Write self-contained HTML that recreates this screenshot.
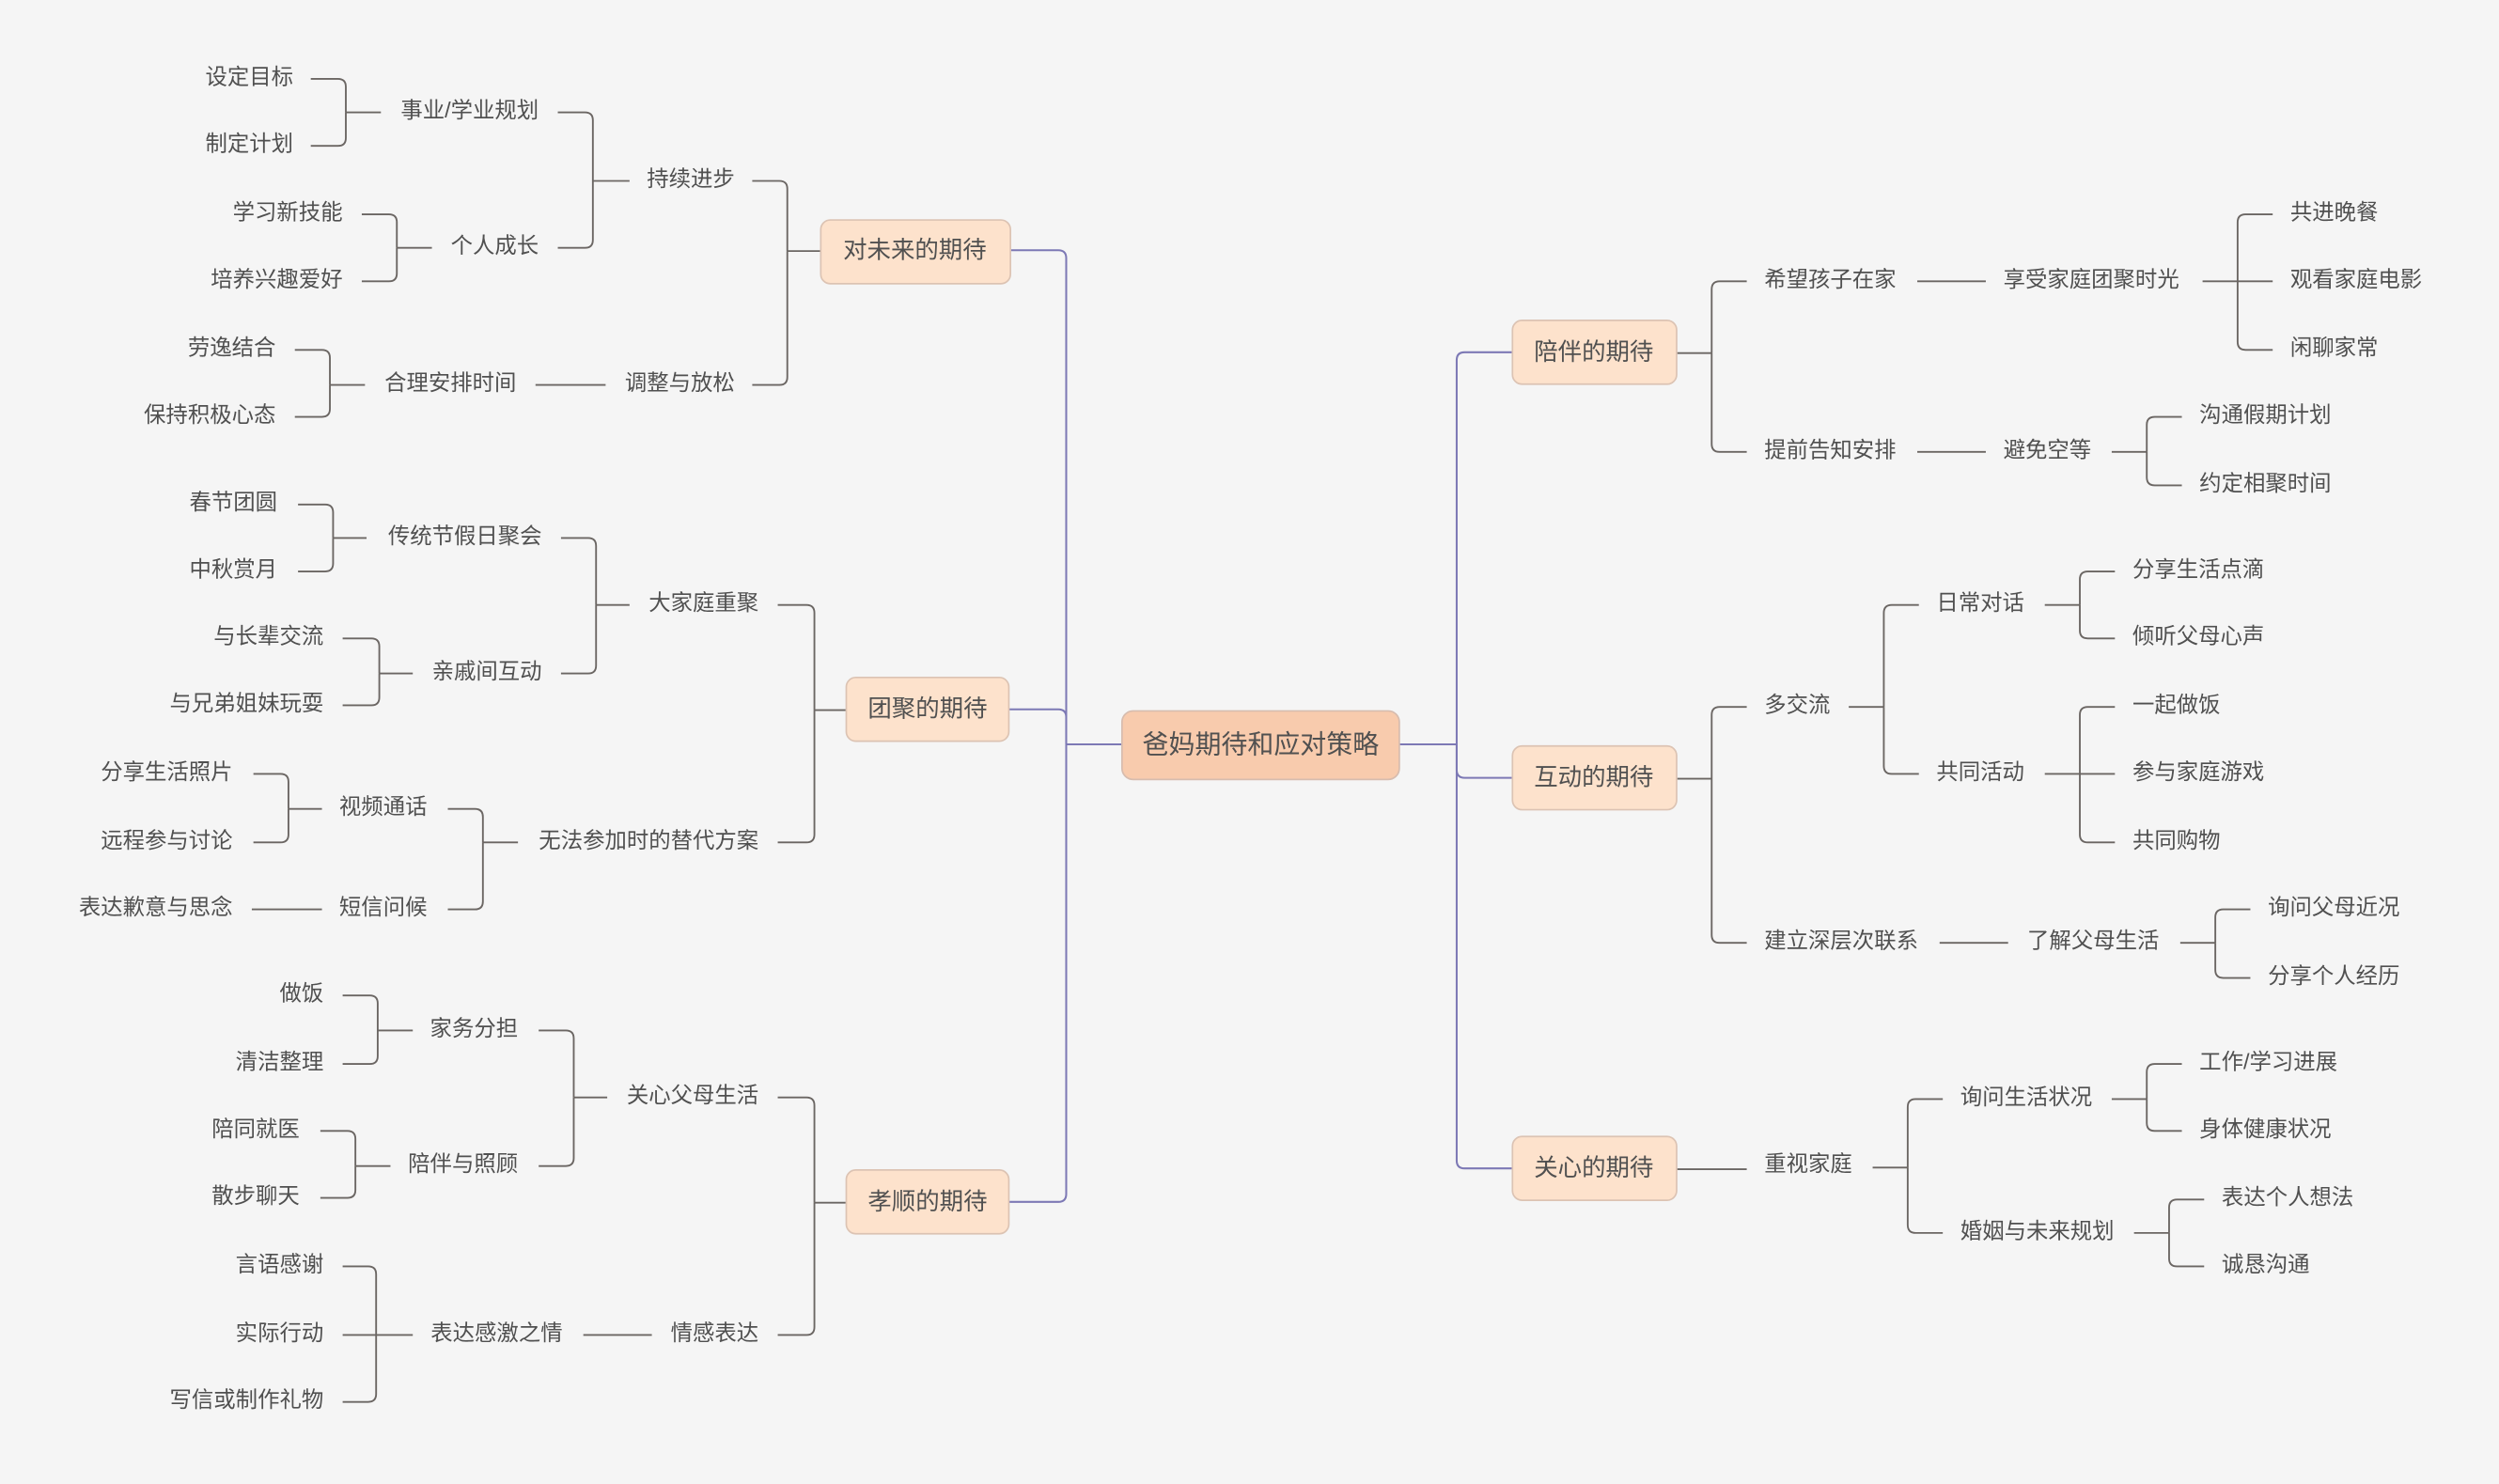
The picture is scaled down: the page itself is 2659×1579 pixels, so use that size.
<!DOCTYPE html>
<html><head><meta charset="utf-8"><style>
html,body{margin:0;padding:0;background:#f5f5f5;}
svg{display:block;}
text{font-family:"Liberation Sans","Noto Sans CJK SC",sans-serif;fill:#505050;font-size:13.8px;dominant-baseline:central;}
.l{text-anchor:end}
.c{text-anchor:middle;font-size:15px}
.s path{fill:none;stroke:#6b6663;stroke-width:1.1}
.m path{fill:none;stroke:#7d79b5;stroke-width:1.2}
</style></head><body>
<svg width="2659" height="1579" viewBox="0 0 1568 931" preserveAspectRatio="none">
<rect width="1568" height="931" fill="#f5f5f5"/>
<g class="m" transform="translate(0,1)">
<path d="M704 466H669"/>
<path d="M633 156H664Q669 156 669 161V466"/>
<path d="M633 444H664Q669 444 669 449V466"/>
<path d="M633 753H664Q669 753 669 748V466"/>
<path d="M878 466H914"/>
<path d="M949 220H919Q914 220 914 225V466"/>
<path d="M949 487H919Q914 487 914 482V466"/>
<path d="M949 732H919Q914 732 914 727V466"/>
</g>
<g class="s" transform="translate(0,1.5)">
<path d="M472 112H489Q494 112 494 117V156"/><path d="M472 240H489Q494 240 494 235V156"/><path d="M494 156H516"/>
<path d="M350 69H367Q372 69 372 74V112"/><path d="M350 154H367Q372 154 372 149V112"/><path d="M372 112H395"/>
<path d="M195 48H212Q217 48 217 53V69"/><path d="M195 90H212Q217 90 217 85V69"/><path d="M217 69H239"/>
<path d="M227 133H244Q249 133 249 138V154"/><path d="M227 175H244Q249 175 249 170V154"/><path d="M249 154H271"/>
<path d="M336 240H380"/>
<path d="M185 218H202Q207 218 207 223V240"/><path d="M185 260H202Q207 260 207 255V240"/><path d="M207 240H229"/>
<path d="M488 378H506Q511 378 511 383V444"/><path d="M488 527H506Q511 527 511 522V444"/><path d="M511 444H531"/>
<path d="M352 336H369Q374 336 374 341V378"/><path d="M352 421H369Q374 421 374 416V378"/><path d="M374 378H395"/>
<path d="M187 315H204Q209 315 209 320V336"/><path d="M187 357H204Q209 357 209 352V336"/><path d="M209 336H230"/>
<path d="M215 399H233Q238 399 238 404V421"/><path d="M215 441H233Q238 441 238 436V421"/><path d="M238 421H259"/>
<path d="M281 506H298Q303 506 303 511V527"/><path d="M281 569H298Q303 569 303 564V527"/><path d="M303 527H325"/>
<path d="M159 484H176Q181 484 181 489V506"/><path d="M159 527H176Q181 527 181 522V506"/><path d="M181 506H202"/>
<path d="M158 569H202"/>
<path d="M488 687H506Q511 687 511 692V753"/><path d="M488 836H506Q511 836 511 831V753"/><path d="M511 753H531"/>
<path d="M338 645H355Q360 645 360 650V687"/><path d="M338 730H355Q360 730 360 725V687"/><path d="M360 687H381"/>
<path d="M215 623H232Q237 623 237 628V645"/><path d="M215 666H232Q237 666 237 661V645"/><path d="M237 645H259"/>
<path d="M201 708H218Q223 708 223 713V730"/><path d="M201 750H218Q223 750 223 745V730"/><path d="M223 730H245"/>
<path d="M366 836H409"/>
<path d="M215 793H231Q236 793 236 798V836"/><path d="M215 836H236"/><path d="M215 878H231Q236 878 236 873V836"/><path d="M236 836H259"/>
<path d="M1052 220H1074"/><path d="M1096 175H1079Q1074 175 1074 180V220"/><path d="M1096 282H1079Q1074 282 1074 277V220"/>
<path d="M1203 175H1246"/>
<path d="M1382 175H1404"/><path d="M1426 133H1409Q1404 133 1404 138V175"/><path d="M1426 175H1404"/><path d="M1426 218H1409Q1404 218 1404 213V175"/>
<path d="M1203 282H1246"/>
<path d="M1325 282H1347"/><path d="M1369 260H1352Q1347 260 1347 265V282"/><path d="M1369 303H1352Q1347 303 1347 298V282"/>
<path d="M1052 487H1074"/><path d="M1096 442H1079Q1074 442 1074 447V487"/><path d="M1096 590H1079Q1074 590 1074 585V487"/>
<path d="M1160 442H1182"/><path d="M1204 378H1187Q1182 378 1182 383V442"/><path d="M1204 484H1187Q1182 484 1182 479V442"/>
<path d="M1283 378H1305"/><path d="M1327 357H1310Q1305 357 1305 362V378"/><path d="M1327 399H1310Q1305 399 1305 394V378"/>
<path d="M1283 484H1305"/><path d="M1327 442H1310Q1305 442 1305 447V484"/><path d="M1327 484H1305"/><path d="M1327 527H1310Q1305 527 1305 522V484"/>
<path d="M1217 590H1260"/>
<path d="M1368 590H1390"/><path d="M1412 569H1395Q1390 569 1390 574V590"/><path d="M1412 612H1395Q1390 612 1390 607V590"/>
<path d="M1052 732H1096"/>
<path d="M1175 731H1197"/><path d="M1219 688H1202Q1197 688 1197 693V731"/><path d="M1219 772H1202Q1197 772 1197 767V731"/>
<path d="M1325 688H1347"/><path d="M1369 666H1352Q1347 666 1347 671V688"/><path d="M1369 708H1352Q1347 708 1347 703V688"/>
<path d="M1339 772H1361"/><path d="M1383 751H1366Q1361 751 1361 756V772"/><path d="M1383 793H1366Q1361 793 1361 788V772"/>
</g>
<g transform="translate(0,1)">
<rect x="704" y="445" width="174" height="43" rx="7" fill="#f8cbad" stroke="#d7bcae" stroke-width="1"/>
<text x="791" y="466" class="c" style="font-size:16.5px">爸妈期待和应对策略</text>
<g fill="#fde2cc" stroke="#dcc3b3" stroke-width="1">
<rect x="515" y="137" width="119" height="40" rx="6"/>
<rect x="531" y="424" width="102" height="40" rx="6"/>
<rect x="531" y="733" width="102" height="40" rx="6"/>
<rect x="949" y="200" width="103" height="40" rx="6"/>
<rect x="949" y="467" width="103" height="40" rx="6"/>
<rect x="949" y="712" width="103" height="40" rx="6"/>
</g>
<text x="574" y="156" class="c">对未来的期待</text>
<text x="582" y="444" class="c">团聚的期待</text>
<text x="582" y="753" class="c">孝顺的期待</text>
<text x="1000" y="220" class="c">陪伴的期待</text>
<text x="1000" y="487" class="c">互动的期待</text>
<text x="1000" y="732" class="c">关心的期待</text>
</g>
<g transform="translate(0,0)">
<text x="461" y="112" class="l">持续进步</text><text x="461" y="240" class="l">调整与放松</text>
<text x="338" y="69" class="l">事业/学业规划</text><text x="338" y="154" class="l">个人成长</text>
<text x="184" y="48" class="l">设定目标</text><text x="184" y="90" class="l">制定计划</text>
<text x="215" y="133" class="l">学习新技能</text><text x="215" y="175" class="l">培养兴趣爱好</text>
<text x="324" y="240" class="l">合理安排时间</text>
<text x="173" y="218" class="l">劳逸结合</text><text x="173" y="260" class="l">保持积极心态</text>
<text x="476" y="378" class="l">大家庭重聚</text><text x="476" y="527" class="l">无法参加时的替代方案</text>
<text x="340" y="336" class="l">传统节假日聚会</text><text x="340" y="421" class="l">亲戚间互动</text>
<text x="174" y="315" class="l">春节团圆</text><text x="174" y="357" class="l">中秋赏月</text>
<text x="203" y="399" class="l">与长辈交流</text><text x="203" y="441" class="l">与兄弟姐妹玩耍</text>
<text x="268" y="506" class="l">视频通话</text><text x="268" y="569" class="l">短信问候</text>
<text x="146" y="484" class="l">分享生活照片</text><text x="146" y="527" class="l">远程参与讨论</text>
<text x="146" y="569" class="l">表达歉意与思念</text>
<text x="476" y="687" class="l">关心父母生活</text><text x="476" y="836" class="l">情感表达</text>
<text x="325" y="645" class="l">家务分担</text><text x="325" y="730" class="l">陪伴与照顾</text>
<text x="203" y="623" class="l">做饭</text><text x="203" y="666" class="l">清洁整理</text>
<text x="188" y="708" class="l">陪同就医</text><text x="188" y="750" class="l">散步聊天</text>
<text x="353" y="836" class="l">表达感激之情</text>
<text x="203" y="793" class="l">言语感谢</text><text x="203" y="836" class="l">实际行动</text><text x="203" y="878" class="l">写信或制作礼物</text>
<text x="1107" y="175">希望孩子在家</text><text x="1107" y="282">提前告知安排</text>
<text x="1257" y="175">享受家庭团聚时光</text>
<text x="1437" y="133">共进晚餐</text><text x="1437" y="175">观看家庭电影</text><text x="1437" y="218">闲聊家常</text>
<text x="1257" y="282">避免空等</text>
<text x="1380" y="260">沟通假期计划</text><text x="1380" y="303">约定相聚时间</text>
<text x="1107" y="442">多交流</text><text x="1107" y="590">建立深层次联系</text>
<text x="1215" y="378">日常对话</text><text x="1215" y="484">共同活动</text>
<text x="1338" y="357">分享生活点滴</text><text x="1338" y="399">倾听父母心声</text>
<text x="1338" y="442">一起做饭</text><text x="1338" y="484">参与家庭游戏</text><text x="1338" y="527">共同购物</text>
<text x="1272" y="590">了解父母生活</text>
<text x="1423" y="569">询问父母近况</text><text x="1423" y="612">分享个人经历</text>
<text x="1107" y="730">重视家庭</text>
<text x="1230" y="688">询问生活状况</text><text x="1230" y="772">婚姻与未来规划</text>
<text x="1380" y="666">工作/学习进展</text><text x="1380" y="708">身体健康状况</text>
<text x="1394" y="751">表达个人想法</text><text x="1394" y="793">诚恳沟通</text>
</g>
</svg>
</body></html>
